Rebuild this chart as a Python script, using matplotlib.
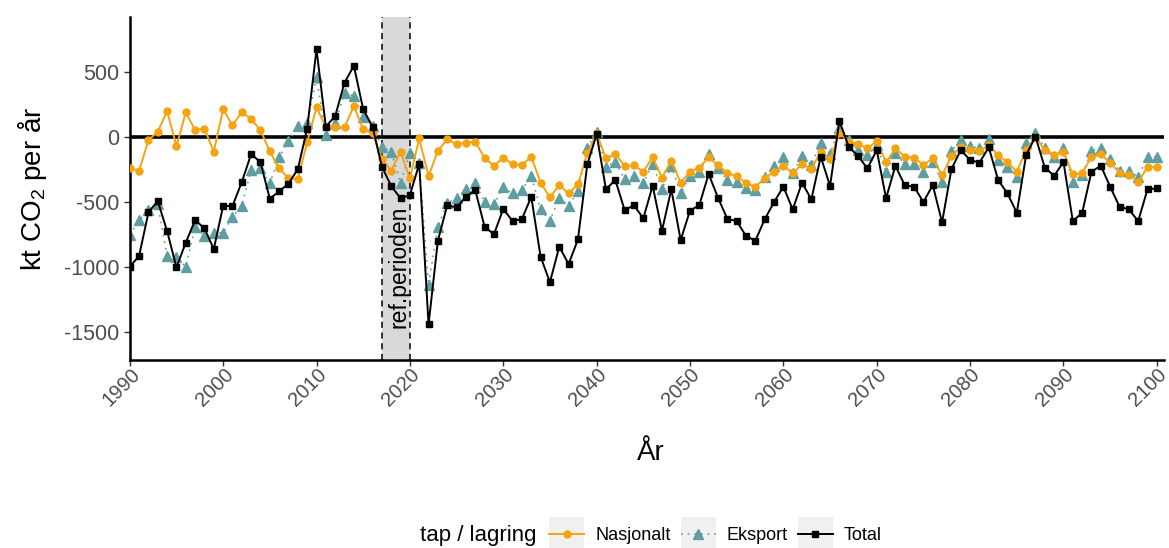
import numpy as np
import matplotlib
matplotlib.use("Agg")
import matplotlib.pyplot as plt
import matplotlib.transforms as mtransforms
from matplotlib.legend_handler import HandlerLine2D
from matplotlib.patches import Rectangle
from matplotlib.lines import Line2D

plt.rcParams["font.family"] = ["Liberation Sans", "DejaVu Sans"]
plt.rcParams["mathtext.fontset"] = "custom"
plt.rcParams["mathtext.rm"] = "Liberation Sans"
plt.rcParams["mathtext.it"] = "Liberation Sans:italic"
plt.rcParams["axes.unicode_minus"] = False

years = np.arange(1990, 2101)

nasjonalt = [
    -238, -264, -26, 38, 197, -72, 187, 51, 62, -115,
    213, 87, 190, 136, 49, -113, -244, -320, -326, -44,
    226, 72, 72, 72, 236, 56, 26, -170, -262, -115,
    -320, -13, -303, -108, -21, -59, -46, -38, -164, -223,
    -162, -210, -218, -154, -354, -467, -372, -436, -367, -128,
    26, -167, -133, -226, -221, -269, -159, -315, -185, -354,
    -269, -238, -159, -218, -282, -303, -359, -385, -320, -269,
    -223, -282, -210, -249, -115, -174, 26, -38, -56, -90,
    -33, -197, -90, -154, -162, -218, -167, -297, -149, -77,
    -103, -110, -64, -141, -197, -269, -103, 0, -103, -141,
    -115, -290, -282, -154, -133, -200, -277, -295, -346, -236,
    -231,
]

eksport = [
    -756, -641, -560, -520, -915, -928, -1000, -692, -764, -744,
    -738, -615, -531, -256, -244, -359, -159, -31, 82, 103,
    456, 13, 103, 338, 313, 154, 82, -77, -115, -354,
    -128, -200, -1141, -692, -508, -474, -405, -359, -500, -520,
    -390, -436, -410, -300, -559, -646, -469, -533, -418, -85,
    38, -231, -192, -328, -303, -359, -210, -403, -226, -436,
    -300, -275, -133, -244, -333, -346, -397, -410, -308, -226,
    -159, -282, -149, -218, -46, -130, 64, -26, -103, -141,
    -64, -274, -128, -210, -210, -269, -192, -351, -108, -26,
    -72, -90, -21, -179, -231, -308, -46, 31, -90, -155,
    -90, -350, -295, -108, -85, -174, -262, -262, -308, -154,
    -154,
]

total = [
    -1000, -918, -582, -495, -726, -1005, -815, -641, -705, -864,
    -533, -533, -349, -133, -197, -477, -420, -361, -249, 62,
    672, 77, 159, 415, 546, 210, 77, -231, -379, -474,
    -449, -210, -1444, -800, -528, -544, -462, -410, -692, -751,
    -556, -649, -633, -462, -923, -1120, -846, -980, -790, -213,
    18, -405, -333, -564, -528, -628, -377, -723, -405, -795,
    -569, -526, -287, -469, -633, -649, -764, -800, -636, -503,
    -385, -559, -354, -482, -154, -379, 121, -77, -149, -244,
    -103, -474, -223, -374, -385, -503, -372, -659, -249, -103,
    -179, -200, -82, -333, -436, -585, -141, 0, -238, -300,
    -195, -649, -585, -269, -223, -385, -538, -559, -649, -405,
    -397,
]

ref_start, ref_end = 2017, 2020

C_NAS = "#F5A30F"
C_EKS = "#5F9EA0"
C_TOT = "#000000"

fig = plt.figure(figsize=(11.69, 5.48), dpi=100)
ax = fig.add_axes([0.111, 0.343, 0.885, 0.626])

# reference period band
ax.axvspan(ref_start, ref_end, color="#D9D9D9", zorder=0, lw=0)
for xv in (ref_start, ref_end):
    ax.axvline(xv, color="black", ls=(0, (4, 3)), lw=1.1, zorder=1)
ax.text(2018.85, -1470, "ref.perioden", rotation=90,
        ha="center", va="bottom", fontsize=16.5, color="black", zorder=1)

ax.axhline(0, color="black", lw=2.6, zorder=1.5)

ax.plot(years, eksport, color=C_EKS, ls=(0, (1, 3)), lw=1.2, marker="^",
        ms=7, zorder=2, label="Eksport")
ax.plot(years, nasjonalt, color=C_NAS, ls="-", lw=1.4, marker="o",
        ms=5, zorder=3, label="Nasjonalt")
ax.plot(years, total, color=C_TOT, ls="-", lw=1.4, marker="s",
        ms=5, zorder=4, label="Total")

ax.set_xlim(1990, 2100.8)
ax.set_ylim(-1718, 921)
ax.set_xticks(np.arange(1990, 2101, 10))
ax.set_yticks([-1500, -1000, -500, 0, 500])

for side in ("top", "right"):
    ax.spines[side].set_visible(False)
for side in ("left", "bottom"):
    ax.spines[side].set_linewidth(1.8)
    ax.spines[side].set_color("black")

ax.tick_params(axis="both", colors="#333333", labelcolor="#4D4D4D",
               length=4, width=1)
ax.tick_params(axis="y", labelsize=15.5)
ax.tick_params(axis="x", labelsize=14.5, pad=4)
shift = mtransforms.ScaledTranslation(7 / 100, 0, fig.dpi_scale_trans)
for lab in ax.get_xticklabels():
    lab.set_rotation(45)
    lab.set_ha("right")
    lab.set_va("center")
    lab.set_rotation_mode("anchor")
    lab.set_transform(lab.get_transform() + shift)

ax.set_xlabel("År", fontsize=20)
ax.xaxis.set_label_coords(0.504, -0.232)
ax.set_ylabel(r"kt CO$_\mathregular{2}$ per år", fontsize=20, labelpad=11)


class KeyHandler(HandlerLine2D):
    def create_artists(self, legend, orig_handle, xdescent, ydescent,
                       width, height, fontsize, trans):
        arts = super().create_artists(legend, orig_handle, xdescent, ydescent,
                                      width, height, fontsize, trans)
        pad = 8
        bg = Rectangle((-xdescent, -ydescent - pad), width, height + 2 * pad,
                       facecolor="#F0F0F0", edgecolor="none", transform=trans)
        return [bg] + list(arts)


handles = [
    Line2D([], [], color=C_NAS, ls="-", lw=1.4, marker="o", ms=5),
    Line2D([], [], color=C_EKS, ls=(0, (1, 3)), lw=1.2, marker="^", ms=7),
    Line2D([], [], color=C_TOT, ls="-", lw=1.4, marker="s", ms=5),
]
labels = ["Nasjonalt", "Eksport", "Total"]
h_map = {h: KeyHandler(numpoints=1) for h in handles}
fig.legend(handles, labels, loc="center left", bbox_to_anchor=(549 / 1169, 0.022),
           ncol=3, frameon=False, fontsize=13, handler_map=h_map,
           borderpad=0, borderaxespad=0,
           handlelength=1.94, handletextpad=0.62, columnspacing=0.55)
fig.text(420 / 1169, 0.022, "tap / lagring", fontsize=16, va="center", ha="left")

fig.savefig("out.png", dpi=100)
